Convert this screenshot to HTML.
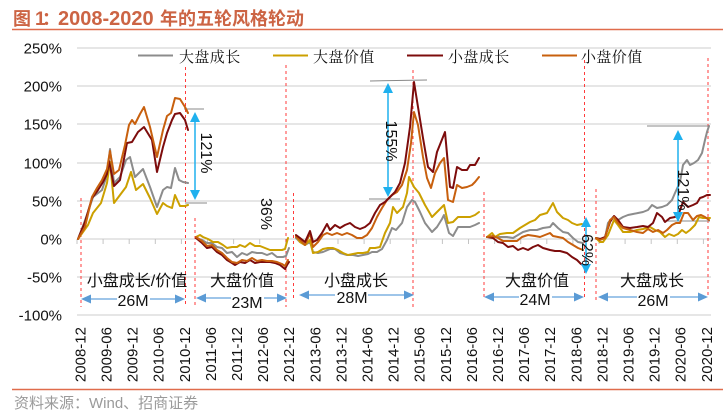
<!DOCTYPE html>
<html><head><meta charset="utf-8"><style>
html,body{margin:0;padding:0;background:#fff;}
svg{display:block;}
.yl{font-family:"Liberation Sans",sans-serif;font-size:15px;fill:#111;text-anchor:end;}
.xl{font-family:"Liberation Sans",sans-serif;font-size:15px;fill:#111;text-anchor:end;}
.lg{font-family:"Liberation Serif","Noto Serif CJK SC",serif;font-size:15px;fill:#111;letter-spacing:0.4px;}
.sl{font-family:"Liberation Sans","Noto Sans CJK SC",sans-serif;font-size:16px;fill:#111;text-anchor:middle;}
.an{font-family:"Liberation Sans",sans-serif;font-size:16px;fill:#111;text-anchor:middle;}
.s{fill:none;stroke-width:2;stroke-linejoin:round;stroke-linecap:round;}
.g{stroke:#8c8c8c;}.y{stroke:#cca000;}.r{stroke:#7d0c0c;}.o{stroke:#c8600e;}
.rd{stroke:#ff3b3b;stroke-width:1;stroke-dasharray:3,3;}
</style></head><body>
<svg width="723" height="416" viewBox="0 0 723 416" xmlns="http://www.w3.org/2000/svg">
<rect width="723" height="416" fill="#fff"/>
<!-- title -->
<text y="25" fill="#cc6444" font-weight="bold" font-family="Liberation Sans,Noto Sans CJK SC,sans-serif"><tspan x="13" font-size="18">图</tspan><tspan x="35" font-size="19">1</tspan><tspan x="42" font-size="18">：</tspan><tspan x="58" font-size="20">2008-2020</tspan><tspan x="160" font-size="18">年的五轮风格轮动</tspan></text>
<line x1="12" y1="29.5" x2="723" y2="29.5" stroke="#e06c4c" stroke-width="1.5"/>
<!-- gridlines -->
<g stroke="#d6d6d6" stroke-width="1.2">
<line x1="77" y1="48" x2="711" y2="48"/>
<line x1="77" y1="86" x2="711" y2="86"/>
<line x1="77" y1="124" x2="711" y2="124"/>
<line x1="77" y1="163" x2="711" y2="163"/>
<line x1="77" y1="201" x2="711" y2="201"/>
<line x1="77" y1="239" x2="711" y2="239"/>
<line x1="77" y1="277" x2="711" y2="277"/>
<line x1="77" y1="315" x2="711" y2="315"/>
</g>
<!-- ticks -->
<g stroke="#c4c4c4" stroke-width="1">
<line x1="77" y1="239" x2="77" y2="244"/><line x1="103.1" y1="239" x2="103.1" y2="244"/><line x1="129.2" y1="239" x2="129.2" y2="244"/><line x1="155.3" y1="239" x2="155.3" y2="244"/><line x1="181.4" y1="239" x2="181.4" y2="244"/><line x1="207.5" y1="239" x2="207.5" y2="244"/><line x1="233.6" y1="239" x2="233.6" y2="244"/><line x1="259.7" y1="239" x2="259.7" y2="244"/><line x1="285.8" y1="239" x2="285.8" y2="244"/><line x1="311.9" y1="239" x2="311.9" y2="244"/><line x1="338" y1="239" x2="338" y2="244"/><line x1="364.1" y1="239" x2="364.1" y2="244"/><line x1="390.2" y1="239" x2="390.2" y2="244"/><line x1="416.3" y1="239" x2="416.3" y2="244"/><line x1="442.4" y1="239" x2="442.4" y2="244"/><line x1="468.5" y1="239" x2="468.5" y2="244"/><line x1="494.6" y1="239" x2="494.6" y2="244"/><line x1="520.7" y1="239" x2="520.7" y2="244"/><line x1="546.8" y1="239" x2="546.8" y2="244"/><line x1="572.9" y1="239" x2="572.9" y2="244"/><line x1="599" y1="239" x2="599" y2="244"/><line x1="625.1" y1="239" x2="625.1" y2="244"/><line x1="651.2" y1="239" x2="651.2" y2="244"/><line x1="677.3" y1="239" x2="677.3" y2="244"/><line x1="703.4" y1="239" x2="703.4" y2="244"/>
</g>
<!-- y labels -->
<text class="yl" x="62" y="53.5">250%</text>
<text class="yl" x="62" y="91.5">200%</text>
<text class="yl" x="62" y="129.5">150%</text>
<text class="yl" x="62" y="168.5">100%</text>
<text class="yl" x="62" y="206.5">50%</text>
<text class="yl" x="62" y="244.5">0%</text>
<text class="yl" x="62" y="282.5">-50%</text>
<text class="yl" x="62" y="320.5">-100%</text>
<!-- x labels -->
<g class="xl">
<text transform="translate(85.4,327) rotate(-90)">2008-12</text>
<text transform="translate(111.5,327) rotate(-90)">2009-06</text>
<text transform="translate(137.6,327) rotate(-90)">2009-12</text>
<text transform="translate(163.7,327) rotate(-90)">2010-06</text>
<text transform="translate(189.8,327) rotate(-90)">2010-12</text>
<text transform="translate(215.9,327) rotate(-90)">2011-06</text>
<text transform="translate(242,327) rotate(-90)">2011-12</text>
<text transform="translate(268.1,327) rotate(-90)">2012-06</text>
<text transform="translate(294.2,327) rotate(-90)">2012-12</text>
<text transform="translate(320.3,327) rotate(-90)">2013-06</text>
<text transform="translate(346.4,327) rotate(-90)">2013-12</text>
<text transform="translate(372.5,327) rotate(-90)">2014-06</text>
<text transform="translate(398.6,327) rotate(-90)">2014-12</text>
<text transform="translate(424.7,327) rotate(-90)">2015-06</text>
<text transform="translate(450.8,327) rotate(-90)">2015-12</text>
<text transform="translate(476.9,327) rotate(-90)">2016-06</text>
<text transform="translate(503,327) rotate(-90)">2016-12</text>
<text transform="translate(529.1,327) rotate(-90)">2017-06</text>
<text transform="translate(555.2,327) rotate(-90)">2017-12</text>
<text transform="translate(581.3,327) rotate(-90)">2018-06</text>
<text transform="translate(607.4,327) rotate(-90)">2018-12</text>
<text transform="translate(633.5,327) rotate(-90)">2019-06</text>
<text transform="translate(659.6,327) rotate(-90)">2019-12</text>
<text transform="translate(685.7,327) rotate(-90)">2020-06</text>
<text transform="translate(711.8,327) rotate(-90)">2020-12</text>
</g>
<!-- red dashed verticals -->
<line class="rd" x1="81" y1="198" x2="81" y2="307"/>
<line class="rd" x1="185.5" y1="67" x2="185.5" y2="307"/>
<line class="rd" x1="195" y1="218" x2="195" y2="307"/>
<line class="rd" x1="286" y1="65" x2="286" y2="307"/>
<line class="rd" x1="293.5" y1="193" x2="293.5" y2="300"/>
<line class="rd" x1="413" y1="70" x2="413" y2="308"/>
<line class="rd" x1="484" y1="192" x2="484" y2="300"/>
<line class="rd" x1="584.5" y1="60" x2="584.5" y2="300"/>
<line class="rd" x1="596" y1="189" x2="596" y2="303"/>
<line class="rd" x1="708" y1="58" x2="708" y2="297"/>
<!-- legend -->
<line x1="138" y1="55.5" x2="173" y2="55.5" class="g" stroke-width="2"/>
<text class="lg" x="179" y="62">大盘成长</text>
<line x1="273" y1="55.5" x2="308" y2="55.5" class="y" stroke-width="2"/>
<text class="lg" x="313" y="62">大盘价值</text>
<line x1="407" y1="55.5" x2="443" y2="55.5" class="r" stroke-width="2"/>
<text class="lg" x="448" y="62">小盘成长</text>
<line x1="542" y1="55.5" x2="577" y2="55.5" class="o" stroke-width="2"/>
<text class="lg" x="581" y="62">小盘价值</text>
<!-- reference gray lines -->
<g stroke="#888" stroke-width="1">
<line x1="184" y1="109" x2="204" y2="109"/>
<line x1="185" y1="203" x2="207" y2="203"/>
<line x1="370" y1="81" x2="427" y2="80"/>
<line x1="369" y1="199" x2="400" y2="199"/>
<line x1="647" y1="126" x2="710" y2="126"/>
<line x1="663" y1="221" x2="710" y2="221"/>
</g>
<!-- series segment 1 -->
<polyline class="s g" points="78,239 83,226 88,212 93,197 102,190 107,175 110,149 114,183 120,177 126,160 130,157 135,177 143,169 150,187 157,207 163,190 167,187 171,188 175,168 179,180 183,182 188,183"/>
<polyline class="s y" points="78,239 83,232 88,225 93,213 101,203 107,183 110,162 114,203 120,195 126,187 131,172 136,190 143,184 150,198 157,214 163,203 167,206 172,208 175,195 180,206 185,206 188,205"/>
<polyline class="s r" points="78,239 85,222 92,198 98,190 103,182 107,174 109,161 114,186 120,180 127,143 132,142 138,132 144,127 152,140 157,172 163,147 167,133 172,120 175,114 180,113 185,120 188,130"/>
<polyline class="s o" points="78,239 85,227 92,197 97,188 102,180 107,169 110,151 114,174 119,170 125,145 129,125 132,120 135,124 140,114 144,107 150,127 157,157 163,130 167,116 171,113 175,98 180,99 185,107 188,113"/>
<!-- segment 2 -->
<polyline class="s g" points="196,238 202,240 207,243 212,243 217,247 222,248 227,253 232,252 237,257 242,253 247,255 252,252 257,253 262,253 267,255 272,253 277,257 283,257 286,256 289,248"/>
<polyline class="s y" points="196,237 200,235 203,237 208,239 213,242 218,242 223,245 227,248 232,247 237,247 240,245 245,247 250,243 255,246 260,246 265,248 270,250 275,250 282,250 285,249 288,238"/>
<polyline class="s r" points="196,238 202,243 207,248 212,247 217,252 222,255 227,260 232,263 235,265 240,262 245,263 250,260 255,263 260,262 265,262 270,262 275,263 280,265 285,269 287,265 289,262"/>
<polyline class="s o" points="196,237 202,241 207,246 212,245 217,250 222,253 227,258 232,262 237,263 242,260 247,261 252,258 257,261 262,260 267,261 272,261 277,262 282,264 285,266 288,260"/>
<!-- segment 3 -->
<polyline class="s g" points="296,238 300,242 305,245 310,242 313,252 318,253 323,252 330,249 335,249 340,253 347,255 353,255 358,256 363,255 368,254 372,252 377,252 382,249 387,240 392,228 396,230 402,223 407,207 412,200 415,202 420,212 425,223 432,232 437,227 442,219 444,215 449,233 453,236 458,227 463,227 470,227 475,225 479,223"/>
<polyline class="s y" points="296,236 300,242 305,245 310,240 313,253 318,252 323,249 328,248 333,248 338,250 343,253 348,255 353,254 358,253 363,253 368,252 370,248 375,248 380,247 385,233 390,223 393,207 397,213 403,207 407,193 409,177 414,187 419,193 425,205 432,217 437,212 442,207 444,205 448,223 453,222 458,217 463,217 470,217 475,215 479,212"/>
<polyline class="s o" points="296,237 300,240 305,245 310,233 313,247 318,242 323,235 327,233 332,235 337,233 342,235 347,233 352,235 357,238 362,238 367,235 372,228 377,217 382,208 387,200 392,195 397,192 402,185 407,170 411,143 414,112 418,125 423,157 427,178 431,188 435,173 440,163 444,158 448,200 453,202 457,185 462,188 467,187 472,185 475,182 479,177"/>
<polyline class="s r" points="296,235 300,238 305,242 310,231 313,242 317,240 322,233 327,224 330,230 335,225 340,228 345,225 350,223 355,227 360,229 365,227 370,223 375,213 380,205 385,202 390,197 395,192 400,183 405,163 410,127 414,82 418,107 423,138 428,167 433,172 437,152 441,142 445,132 450,187 453,188 457,167 462,170 467,170 470,165 475,165 479,158"/>
<!-- segment 4 -->
<polyline class="s g" points="487,237 493,237 500,237 507,237 513,238 518,235 523,232 530,230 537,230 543,228 550,227 553,223 558,228 563,232 568,233 573,238 578,242 583,243"/>
<polyline class="s y" points="487,237 492,233 495,237 500,234 507,233 513,233 520,228 525,225 530,222 535,220 540,215 547,213 553,203 557,212 563,218 568,220 572,223 577,225 582,224"/>
<polyline class="s r" points="487,237 493,238 498,242 503,243 508,247 513,246 518,250 523,248 528,250 533,247 538,245 543,248 550,250 555,251 560,251 567,253 572,257 577,260 581,264 583,265"/>
<polyline class="s o" points="487,237 493,236 498,238 503,241 510,241 517,241 522,237 528,235 535,236 540,237 545,235 550,233 553,236 558,237 563,238 568,242 573,245 578,248 583,250"/>
<!-- segment 5 -->
<polyline class="s g" points="596,238 600,239 605,238 608,223 613,217 618,220 623,217 628,215 633,214 638,213 643,212 648,210 652,205 657,208 662,207 667,205 672,200 675,193 680,182 683,165 687,160 690,165 694,163 698,160 702,153 705,140 707,132 709,126"/>
<polyline class="s y" points="596,238 600,242 603,242 608,235 614,220 618,225 623,232 630,232 637,230 643,229 650,227 655,230 660,232 665,237 669,234 674,236 678,234 682,230 686,233 690,230 695,225 699,217 703,218 707,218 710,218"/>
<polyline class="s r" points="596,238 600,239 605,237 610,222 614,216 618,220 623,227 630,228 637,227 643,226 648,227 653,223 657,213 662,217 665,222 670,218 675,217 679,213 683,202 688,207 693,205 697,203 700,198 703,197 707,195 710,195"/>
<polyline class="s o" points="596,238 600,240 605,238 610,220 614,217 618,223 623,228 630,230 637,232 643,233 648,229 653,232 658,230 663,233 667,230 672,225 676,223 680,223 684,213 688,213 693,220 697,216 701,215 705,217 709,220"/>
<!-- vertical measure arrows -->
<g stroke="#1fb0ee" stroke-width="1.5">
<line x1="195" y1="118" x2="195" y2="194"/>
<line x1="388" y1="89" x2="388" y2="191"/>
<line x1="586" y1="223" x2="586" y2="268"/>
<line x1="678" y1="136" x2="678" y2="216"/>
</g>
<g fill="#1fb0ee">
<polygon points="195,112 190,122 200,122"/><polygon points="195,200 190,190 200,190"/>
<polygon points="388,83 383,93 393,93"/><polygon points="388,197 383,187 393,187"/>
<polygon points="586,217 581,227 591,227"/><polygon points="586,274 581,264 591,264"/>
<polygon points="678,130 673,140 683,140"/><polygon points="678,222 673,212 683,212"/>
</g>
<text class="an" transform="translate(207,153) rotate(90)" dy="6">121%</text>
<text class="an" transform="translate(267,214) rotate(90)" dy="6">36%</text>
<text class="an" transform="translate(392,141) rotate(90)" dy="6">155%</text>
<text class="an" transform="translate(588,250) rotate(90)" dy="6">62%</text>
<text class="an" transform="translate(684,190) rotate(90)" dy="6">121%</text>
<!-- segment labels -->
<text class="sl" x="137" y="286">小盘成长/价值</text>
<text class="sl" x="242" y="286">大盘价值</text>
<text class="sl" x="356" y="286">小盘成长</text>
<text class="sl" x="537" y="286">大盘价值</text>
<text class="sl" x="652" y="286">大盘成长</text>
<!-- horizontal span arrows -->
<g stroke="#7fb2e2" stroke-width="1.5">
<line x1="88" y1="299" x2="178" y2="299"/>
<line x1="203" y1="298" x2="280" y2="298"/>
<line x1="306" y1="295" x2="406" y2="295"/>
<line x1="492" y1="297" x2="577" y2="297"/>
<line x1="605" y1="297" x2="700" y2="297"/>
</g>
<g fill="#5b9bd5">
<polygon points="81,299 91,294.5 91,303.5"/><polygon points="185,299 175,294.5 175,303.5"/>
<polygon points="196,298 206,293.5 206,302.5"/><polygon points="287,298 277,293.5 277,302.5"/>
<polygon points="299,295 309,290.5 309,299.5"/><polygon points="414,295 404,290.5 404,299.5"/>
<polygon points="484,297 494,292.5 494,301.5"/><polygon points="584,297 574,292.5 574,301.5"/>
<polygon points="598,297 608,292.5 608,301.5"/><polygon points="708,297 698,292.5 698,301.5"/>
</g>
<g fill="#fff">
<rect x="117" y="291" width="33" height="17"/>
<rect x="231" y="294" width="33" height="17"/>
<rect x="335" y="288" width="33" height="17"/>
<rect x="519" y="291" width="33" height="17"/>
<rect x="637" y="292" width="33" height="17"/>
</g>
<text class="an" x="133" y="306">26M</text>
<text class="an" x="247" y="308">23M</text>
<text class="an" x="352" y="303">28M</text>
<text class="an" x="535" y="305">24M</text>
<text class="an" x="653" y="306">26M</text>
<!-- footer -->
<line x1="12" y1="389.5" x2="723" y2="389.5" stroke="#e06c4c" stroke-width="1.5"/>
<text x="14" y="408" fill="#9a9a9a" font-size="15" font-family="Liberation Sans,Noto Sans CJK SC,sans-serif">资料来源：Wind、招商证券</text>
</svg>
</body></html>
